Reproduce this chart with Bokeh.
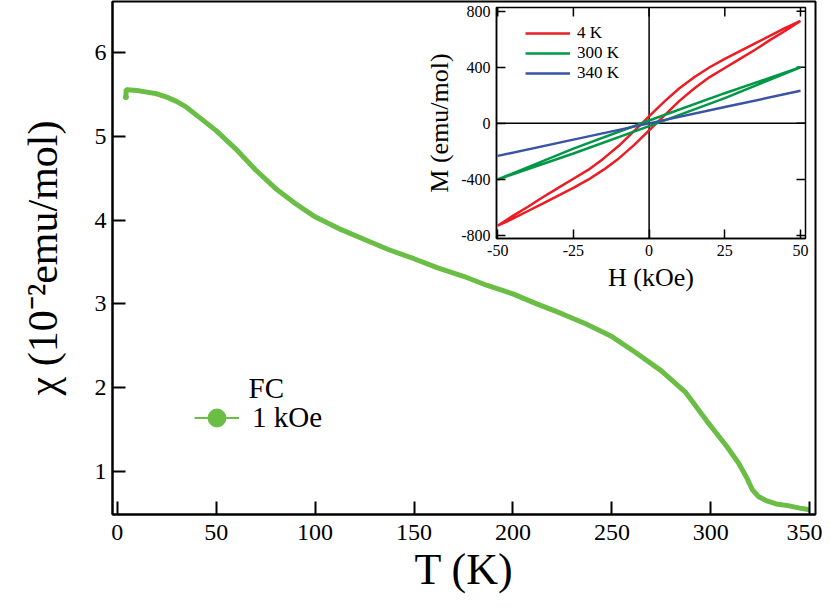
from bokeh.plotting import figure
from bokeh.models import (Range1d, LinearAxis, FixedTicker, Label, Legend, LegendItem,
                          NumeralTickFormatter)
from bokeh.embed import file_html
from bokeh.resources import INLINE

FONT = "Liberation Serif"
NAN = float("nan")

# ---------------- data ----------------
T_K = [4.4, 4.5, 5, 10, 15, 20, 25, 30, 35, 42, 50, 60, 70, 80, 90, 100, 112, 125, 137,
       150, 162, 175, 187, 200, 212, 225, 237, 250, 262, 275, 287, 298, 308, 314, 318,
       321, 324, 328, 333, 339, 345, 350]
CHI = [5.47, 5.56, 5.56, 5.55, 5.53, 5.51, 5.47, 5.42, 5.35, 5.22, 5.07, 4.85, 4.60,
       4.38, 4.20, 4.04, 3.90, 3.77, 3.65, 3.54, 3.43, 3.33, 3.22, 3.12, 3.00, 2.88,
       2.76, 2.61, 2.42, 2.20, 1.95, 1.60, 1.30, 1.10, 0.93, 0.78, 0.70, 0.65, 0.61,
       0.59, 0.56, 0.54]
T_TICKS = [0, 50, 100, 150, 200, 250, 300, 350]
CHI_TICKS = [1, 2, 3, 4, 5, 6]

H_DOWN = [50, 45, 40, 35, 30, 25, 20, 15, 10, 5, 0, -5, -10, -15, -20, -25, -30, -35,
          -40, -45, -50]
M_4K_DOWN = [730, 680, 625, 570, 515, 460, 400, 330, 250, 155, 50, -55, -160, -250,
             -330, -395, -460, -525, -595, -660, -730]
H_UP = [-50, -45, -40, -35, -30, -25, -20, -15, -10, -5, 0, 5, 10, 15, 20, 25, 30, 35,
        40, 45, 50]
M_4K_UP = [-730, -680, -625, -570, -515, -460, -400, -330, -250, -155, -50, 55, 160,
           250, 330, 395, 460, 525, 595, 660, 730]

H_300_DOWN = [50, 25, 0, -25, -50]
M_300K_DOWN = [400, 215, 20, -180, -400]
H_300_UP = [-50, -25, 0, 25, 50]
M_300K_UP = [-400, -215, -20, 180, 400]

H_340 = [-50, -25, 0, 25, 50]
M_340K = [-232, -116, 0, 116, 232]

H_TICKS = [-50, -25, 0, 25, 50]
M_TICKS = [-800, -400, 0, 400, 800]

LEGEND_INSET = ["4 K", "300 K", "340 K"]

GREEN_MAIN = "#6abd45"
RED = "#ed1c24"
GREEN = "#009846"
BLUE = "#3a53a4"

# ---------------- layout ----------------
W, H = 822, 602
B_L, B_R, B_T, B_B = 112, 7, 1, 88
FR_L, FR_R, FR_T, FR_B = B_L, W - B_R, B_T, H - B_B
X_RANGE = (-2.37, 352.9)
Y_RANGE = (0.484, 6.613)

IN_L, IN_R, IN_T, IN_B = 496, 805, 7, 238
H_LO, H_HI = -50.4, 51.65
M_LO, M_HI = -821, 826

kx = (IN_R - IN_L) / (H_HI - H_LO)
hx_range = Range1d(H_LO - (IN_L - FR_L) / kx, H_HI + (FR_R - IN_R) / kx)
ky = (IN_B - IN_T) / (M_HI - M_LO)
my_range = Range1d(M_LO - (FR_B - IN_B) / ky, M_HI + (IN_T - FR_T) / ky)

p = figure(width=W, height=H, x_range=X_RANGE, y_range=Y_RANGE,
           output_backend="svg", toolbar_location=None,
           min_border_left=B_L, min_border_right=B_R,
           min_border_top=B_T, min_border_bottom=B_B,
           background_fill_color="white", border_fill_color="white")
p.extra_x_ranges = {"hx": hx_range}
p.extra_y_ranges = {"my": my_range}
p.grid.visible = False
p.outline_line_color = "black"
p.outline_line_width = 2


def style_axis(ax, tick_in, font_size, lw):
    ax.major_tick_in = tick_in
    ax.major_tick_out = 0
    ax.minor_tick_line_color = None
    ax.axis_line_color = "black"
    ax.axis_line_width = lw
    ax.major_tick_line_color = "black"
    ax.major_tick_line_width = lw
    ax.major_label_text_font = FONT
    ax.major_label_text_font_size = font_size
    ax.major_label_text_color = "black"
    ax.axis_label_text_font = FONT
    ax.axis_label_text_font_style = "normal"
    ax.axis_label_text_color = "black"


xa = p.xaxis[0]
ya = p.yaxis[0]
xa.ticker = FixedTicker(ticks=T_TICKS)
ya.ticker = FixedTicker(ticks=CHI_TICKS)
style_axis(xa, 13, "24px", 2)
style_axis(ya, 13, "24px", 2)
xa.major_label_standoff = 10
ya.major_label_standoff = 6
xa.axis_label = "T (K)"
xa.axis_label_text_font_size = "44px"
xa.axis_label_standoff = 2
ya.axis_label = "\u03c7 (10\u207b\u00b2emu/mol)"
ya.axis_label_text_font_size = "42px"
ya.axis_label_standoff = 26

# main curve
main = p.line(T_K, CHI, line_color=GREEN_MAIN, line_width=5)
p.scatter(T_K[:1], CHI[:1], size=5, color=GREEN_MAIN)

# main legend proxies (not drawn in the plot area)
proxy_line = p.line([NAN], [NAN], line_color=GREEN_MAIN, line_width=2)
proxy_dot = p.scatter([NAN], [NAN], size=18, color=GREEN_MAIN)
leg_main = Legend(items=[LegendItem(label="1 kOe", renderers=[proxy_line, proxy_dot])],
                  location=(82, 74), padding=0, margin=0, spacing=0,
                  border_line_color=None, background_fill_alpha=0,
                  glyph_width=45, glyph_height=45, label_height=45, label_standoff=13,
                  label_text_font=FONT, label_text_font_size="29px",
                  label_text_color="black")
p.add_layout(leg_main)

p.add_layout(Label(text="FC", x=136, y=127, x_units="screen", y_units="screen",
                   text_font=FONT, text_font_size="29px", text_baseline="alphabetic",
                   text_color="black"))

# ---------------- inset ----------------
p.segment(x0=[H_LO, 0], y0=[0, M_LO], x1=[H_HI, 0], y1=[0, M_HI],
          x_range_name="hx", y_range_name="my", line_color="black", line_width=1.5)
p.quad(left=[H_LO], right=[H_HI], bottom=[M_LO], top=[M_HI],
       x_range_name="hx", y_range_name="my", fill_color=None,
       line_color="black", line_width=1.5)
# inward ticks on the top and right edges of the inset
p.ray(x=H_TICKS, y=[M_HI] * len(H_TICKS), length=9, length_units="screen",
      angle=-90, angle_units="deg", x_range_name="hx", y_range_name="my",
      line_color="black", line_width=1.5)
p.ray(x=[H_HI] * len(M_TICKS), y=M_TICKS, length=9, length_units="screen",
      angle=180, angle_units="deg", x_range_name="hx", y_range_name="my",
      line_color="black", line_width=1.5)

r4 = p.line(H_DOWN + H_UP, M_4K_DOWN + M_4K_UP, x_range_name="hx", y_range_name="my",
            line_color=RED, line_width=2.5)
r300 = p.line(H_300_DOWN + H_300_UP, M_300K_DOWN + M_300K_UP, x_range_name="hx",
              y_range_name="my", line_color=GREEN, line_width=2.5)
r340 = p.line(H_340, M_340K, x_range_name="hx", y_range_name="my",
              line_color=BLUE, line_width=2.5)


def inset_axis(side, loc, ticks, label):
    horiz = side in ("below", "above")
    ax = LinearAxis(x_range_name="hx", y_range_name="my", fixed_location=loc,
                    ticker=FixedTicker(ticks=ticks),
                    formatter=NumeralTickFormatter(format="0"),
                    bounds=(H_LO, H_HI) if horiz else (M_LO, M_HI))
    style_axis(ax, 9, "16px", 1.5)
    ax.major_label_standoff = 6
    ax.axis_label = label
    ax.axis_label_text_font_size = "26px"
    ax.axis_label_standoff = 4
    p.add_layout(ax, side)
    return ax


inset_axis("below", M_LO, H_TICKS, "H (kOe)")
inset_axis("left", H_LO, M_TICKS, "M (emu/mol)")

leg_in = Legend(items=[LegendItem(label=LEGEND_INSET[0], renderers=[r4]),
                       LegendItem(label=LEGEND_INSET[1], renderers=[r300]),
                       LegendItem(label=LEGEND_INSET[2], renderers=[r340])],
                location=(413, 431), padding=0, margin=0, spacing=0,
                border_line_color=None, background_fill_alpha=0,
                glyph_width=45, glyph_height=20, label_height=20, label_standoff=7,
                label_text_font=FONT, label_text_font_size="17px",
                label_text_color="black")
p.add_layout(leg_in)

open("out.html", "w").write(file_html(p, INLINE))
